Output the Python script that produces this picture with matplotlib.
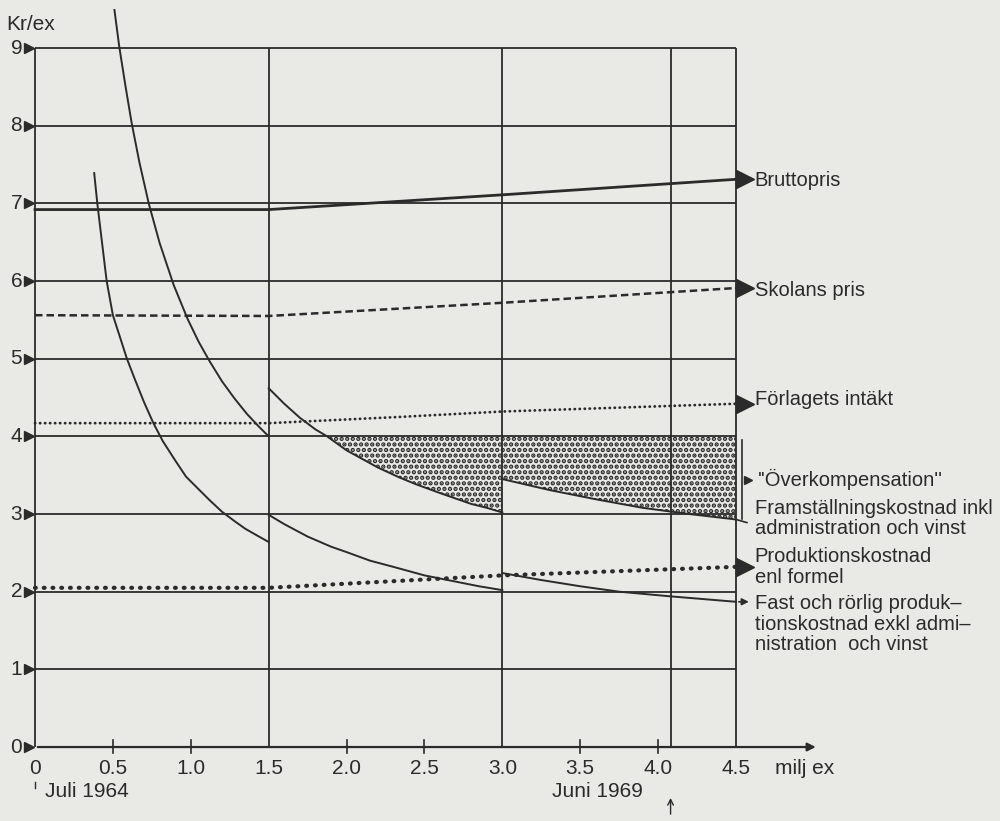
import numpy as np
import matplotlib
matplotlib.use('Agg')
import matplotlib.pyplot as plt

plt.rcParams['font.family'] = ['Liberation Sans', 'DejaVu Sans']
plt.rcParams['hatch.linewidth'] = 2.2

# axis layout (values)
y_ticks = list(range(10))
x_ticks = [0, 0.5, 1.0, 1.5, 2.0, 2.5, 3.0, 3.5, 4.0, 4.5]
x_ticklabels = ['0', '0.5', '1.0', '1.5', '2.0', '2.5', '3.0', '3.5', '4.0', '4.5']
x_grid = [0, 1.5, 3.0, 4.08, 4.5]

# price lines
brutto_x = [0, 1.5, 3.0, 4.5]
brutto_y = [6.92, 6.92, 7.11, 7.31]
skolans_x = [0, 1.5, 3.0, 4.5]
skolans_y = [5.56, 5.55, 5.72, 5.91]
forlag_x = [0, 1.5, 2.34, 3.0, 4.5]
forlag_y = [4.17, 4.17, 4.25, 4.32, 4.42]
prod_x = [0, 1.5, 3.0, 4.5]
prod_y = [2.05, 2.05, 2.21, 2.32]

# Framställningskostnad inkl administration och vinst (three editions)
framst_x = [
    [0.51, 0.54, 0.58, 0.62, 0.67, 0.73, 0.80, 0.89, 0.98, 1.05, 1.12, 1.2,
     1.28, 1.36, 1.43, 1.5],
    [1.5, 1.6, 1.7, 1.8, 1.875, 2.0, 2.1, 2.2, 2.34, 2.45, 2.6, 2.7, 2.8, 2.9, 3.0],
    [3.0, 3.3, 3.6, 3.9, 4.2, 4.5],
]
framst_y = [
    [9.49, 9.03, 8.52, 8.04, 7.53, 7.0, 6.49, 5.95, 5.51, 5.22, 4.97, 4.71,
     4.49, 4.29, 4.14, 4.0],
    [4.62, 4.42, 4.24, 4.09, 4.0, 3.82, 3.71, 3.6, 3.47, 3.38, 3.27, 3.2, 3.13, 3.08, 3.02],
    [3.45, 3.31, 3.19, 3.08, 3.0, 2.93],
]
# Fast och rörlig produktionskostnad exkl administration och vinst
fast_x = [
    [0.38, 0.40, 0.43, 0.46, 0.50, 0.55, 0.59, 0.64, 0.70, 0.76, 0.82, 0.90,
     0.97, 1.05, 1.12, 1.2, 1.28, 1.35, 1.42, 1.5],
    [1.5, 1.6, 1.75, 1.9, 2.0, 2.15, 2.3, 2.5, 2.7, 2.85, 3.0],
    [3.0, 3.25, 3.5, 3.75, 4.08, 4.5],
]
fast_y = [
    [7.39, 7.0, 6.5, 6.0, 5.56, 5.25, 5.0, 4.74, 4.44, 4.17, 3.94, 3.69,
     3.48, 3.32, 3.18, 3.03, 2.91, 2.81, 2.73, 2.64],
    [2.99, 2.87, 2.71, 2.58, 2.51, 2.40, 2.32, 2.21, 2.13, 2.07, 2.02],
    [2.24, 2.15, 2.07, 2.0, 1.94, 1.87],
]

bg = '#e9e9e6'
ink = '#2b2b2b'
fs = 15
fs_r = 14.5

fig = plt.figure(figsize=(10, 8.21), dpi=100, facecolor=bg)
ax = fig.add_axes([0.035, 0.0901, 0.701, 0.8514])
ax.set_xlim(0, 4.5)
ax.set_ylim(0, 9)
ax.axis('off')

# grid
ax.hlines(y_ticks[1:], 0, 4.5, color=ink, lw=1.3, clip_on=False)
ax.vlines(x_grid, 0, 9, color=ink, lw=1.3, clip_on=False)
# x axis with arrow
ax.annotate('', xy=(5.03, 0), xytext=(0, 0), annotation_clip=False,
            arrowprops=dict(arrowstyle='-|>', color=ink, lw=1.6, mutation_scale=12))
for xt in x_ticks:
    if xt not in x_grid:
        ax.plot([xt, xt], [-0.08, 0.09], color=ink, lw=1.2, clip_on=False)

# y labels with small triangles
for yt in y_ticks:
    ax.text(-0.082, yt, str(yt), ha='right', va='center', fontsize=fs, color=ink)
    ax.plot(-0.038, yt, marker='>', ms=6.5, color=ink, clip_on=False)
ax.text(-0.185, 9.3, 'Kr/ex', ha='left', va='center', fontsize=fs, color=ink)

# x labels
for xt, lab in zip(x_ticks, x_ticklabels):
    ax.text(xt, -0.28, lab, ha='center', va='center', fontsize=fs, color=ink)
ax.text(4.75, -0.28, 'milj ex', ha='left', va='center', fontsize=fs, color=ink)
ax.plot([0, 0], [-0.45, -0.53], color=ink, lw=1.0, clip_on=False)
ax.text(0.065, -0.57, 'Juli 1964', ha='left', va='center', fontsize=fs, color=ink)
ax.text(3.61, -0.57, 'Juni 1969', ha='center', va='center', fontsize=fs, color=ink)
ax.annotate('', xy=(4.08, -0.62), xytext=(4.08, -0.9), annotation_clip=False,
            arrowprops=dict(arrowstyle='->', color=ink, lw=1.0, mutation_scale=10))

# overcompensation area
ax.fill_between(framst_x[1], framst_y[1], 4.0, where=np.array(framst_y[1]) <= 4.0,
                interpolate=True, facecolor='none', edgecolor=ink, hatch='...', lw=0)
ax.fill_between(framst_x[2], framst_y[2], 4.0, facecolor='none', edgecolor=ink,
                hatch='...', lw=0)

# price lines
ax.plot(brutto_x, brutto_y, color=ink, lw=2.0, clip_on=False)
ax.plot(skolans_x, skolans_y, color=ink, lw=1.8, ls=(0, (3, 1.6)), clip_on=False)
ax.plot(forlag_x, forlag_y, color=ink, lw=2.0, ls=(0, (0.1, 1.7)),
        dash_capstyle='round', clip_on=False)
ax.plot(prod_x, prod_y, color=ink, lw=3.0, ls=(0, (0.2, 1.9)),
        dash_capstyle='round', clip_on=False)

for xs, ys in zip(framst_x, framst_y):
    ax.plot(xs, ys, color=ink, lw=1.4, clip_on=False)
for xs, ys in zip(fast_x, fast_y):
    ax.plot(xs, ys, color=ink, lw=1.4, clip_on=False)

# right hand arrows
for yv in [brutto_y[-1], skolans_y[-1], forlag_y[-1], prod_y[-1]]:
    ax.plot([4.5, 4.55], [yv, yv], color=ink, lw=1.5, clip_on=False)
    ax.plot(4.56, yv, marker='>', ms=13, color=ink, clip_on=False)
ax.annotate('', xy=(4.6, fast_y[2][-1]), xytext=(4.5, fast_y[2][-1]), annotation_clip=False,
            arrowprops=dict(arrowstyle='-|>', color=ink, lw=1.2, mutation_scale=10))
ax.plot([4.5, 4.57], [framst_y[2][-1], framst_y[2][-1] - 0.04], color=ink, lw=1.2, clip_on=False)
ax.plot([4.54, 4.54], [3.95, 2.93], color=ink, lw=1.2, clip_on=False)
ax.plot(4.575, 3.44, marker='>', ms=6, color=ink, clip_on=False)

# right hand labels
tx = 4.62
ax.text(tx, 7.30, 'Bruttopris', ha='left', va='center', fontsize=fs_r, color=ink)
ax.text(tx, 5.88, 'Skolans pris', ha='left', va='center', fontsize=fs_r, color=ink)
ax.text(tx, 4.47, 'Förlagets intäkt', ha='left', va='center', fontsize=fs_r, color=ink)
ax.text(4.64, 3.44, "''Överkompensation''", ha='left', va='center', fontsize=fs_r, color=ink)
ax.text(tx, 2.94, 'Framställningskostnad inkl\nadministration och vinst', ha='left',
        va='center', fontsize=fs_r, color=ink, linespacing=1.1)
ax.text(tx, 2.32, 'Produktionskostnad\nenl formel', ha='left', va='center',
        fontsize=fs_r, color=ink, linespacing=1.1)
ax.text(tx, 1.58, 'Fast och rörlig produk–\ntionskostnad exkl admi–\nnistration  och vinst',
        ha='left', va='center', fontsize=fs_r, color=ink, linespacing=1.1)

fig.savefig('out.png', dpi=100, facecolor=bg)
